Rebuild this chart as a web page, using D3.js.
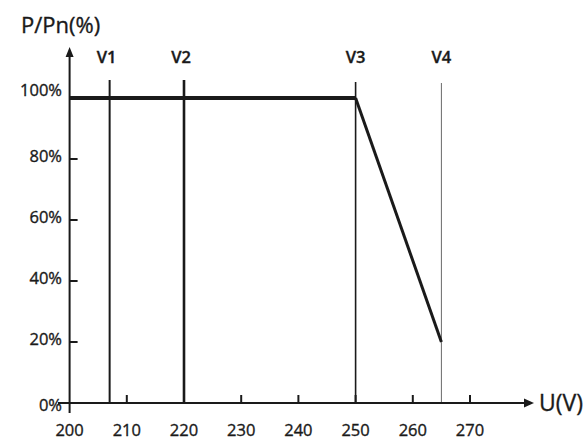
<!DOCTYPE html>
<html><head><meta charset="utf-8">
<script src="https://cdn.jsdelivr.net/npm/d3@7"></script>
<style>
html,body{margin:0;padding:0;background:#fff;}
svg{display:block;font-family:"Open Sans",sans-serif;}
text{stroke:#1a1a1a;stroke-width:0.35px;}
</style></head>
<body>
<svg id="c" width="587" height="443"></svg>
<script>
// Data
const xTicks = [200, 210, 220, 230, 240, 250, 260, 270];
const yTicks = [0, 20, 40, 60, 80, 100];
const markerNames = ["V1", "V2", "V3", "V4"];
const markerVoltages = [207, 220, 250, 265];
const curveU = [200, 250, 265];
const curveP = [100, 100, 20];
const xTitle = "U(V)";
const yTitle = "P/Pn(%)";

const svg = d3.select("#c");
const x = d3.scaleLinear().domain([200, 270]).range([69.6, 470]);
const y = d3.scaleLinear().domain([0, 100]).range([403, 98]);

const ink = "#1a1a1a";

// marker vertical lines
const markerWidths = [2, 2.6, 1.6, 1];
const markerColors = [ink, ink, ink, "#6a6a6a"];
const markerTop = [80, 80, 82, 83];
markerVoltages.forEach((v, i) => {
  svg.append("line")
    .attr("x1", x(v)).attr("x2", x(v))
    .attr("y1", markerTop[i]).attr("y2", y(0))
    .attr("stroke", markerColors[i]).attr("stroke-width", markerWidths[i]);
  svg.append("text")
    .attr("x", x(v) - (i < 2 ? 3 : 0)).attr("y", 63)
    .attr("text-anchor", "middle")
    .attr("font-size", 16.5).attr("font-weight", 600).attr("fill", ink)
    .text(markerNames[i]);
});

// x axis
const xAxisG = svg.append("g");
xAxisG.append("line")
  .attr("x1", 58).attr("x2", 527).attr("y1", y(0)).attr("y2", y(0))
  .attr("stroke", ink).attr("stroke-width", 2);
xAxisG.append("path")
  .attr("d", `M524,${y(0)-4.5} L534,${y(0)} L524,${y(0)+4.5} Z`)
  .attr("fill", ink);
xTicks.forEach(t => {
  if (t !== 200) {
    xAxisG.append("line")
      .attr("x1", x(t)).attr("x2", x(t))
      .attr("y1", y(0)).attr("y2", y(0) - 8)
      .attr("stroke", ink).attr("stroke-width", 2);
  }
  xAxisG.append("text")
    .attr("x", x(t)).attr("y", 436)
    .attr("text-anchor", "middle")
    .attr("font-size", 16.5).attr("fill", ink)
    .text(t);
});
xAxisG.append("text")
  .attr("x", 539).attr("y", y(0) + 8)
  .attr("font-size", 23).attr("fill", ink)
  .text(xTitle);

// y axis
const yAxisG = svg.append("g");
yAxisG.append("line")
  .attr("x1", x(200)).attr("x2", x(200)).attr("y1", 413).attr("y2", 56)
  .attr("stroke", ink).attr("stroke-width", 2);
yAxisG.append("path")
  .attr("d", `M${x(200)-4},57 L${x(200)},47 L${x(200)+4},57 Z`)
  .attr("fill", ink);
yTicks.forEach(t => {
  if (t > 0 && t < 100) {
    yAxisG.append("line")
      .attr("x1", x(200)).attr("x2", x(200) + 8)
      .attr("y1", y(t)).attr("y2", y(t))
      .attr("stroke", ink).attr("stroke-width", 2);
  }
  const off = t === 100 ? -8 : (t === 0 ? 2 : -3);
  yAxisG.append("text")
    .attr("x", 62).attr("y", y(t) + off)
    .attr("dy", "0.35em")
    .attr("text-anchor", "end")
    .attr("font-size", 16.5).attr("fill", ink)
    .text(t + "%");
});
yAxisG.append("text")
  .attr("x", 21).attr("y", 33)
  .attr("font-size", 22).attr("fill", ink)
  .text(yTitle);

// curve: flat part (thicker) and the falling part
svg.append("path")
  .datum(curveU.slice(0, 2))
  .attr("d", d3.line().x(d => x(d)).y(() => y(100)))
  .attr("fill", "none").attr("stroke", ink).attr("stroke-width", 4);
svg.append("path")
  .datum(curveU.slice(1))
  .attr("d", d3.line().x(d => x(d)).y((d, i) => y(curveP[i + 1])))
  .attr("fill", "none").attr("stroke", ink).attr("stroke-width", 3);
</script>
</body></html>
